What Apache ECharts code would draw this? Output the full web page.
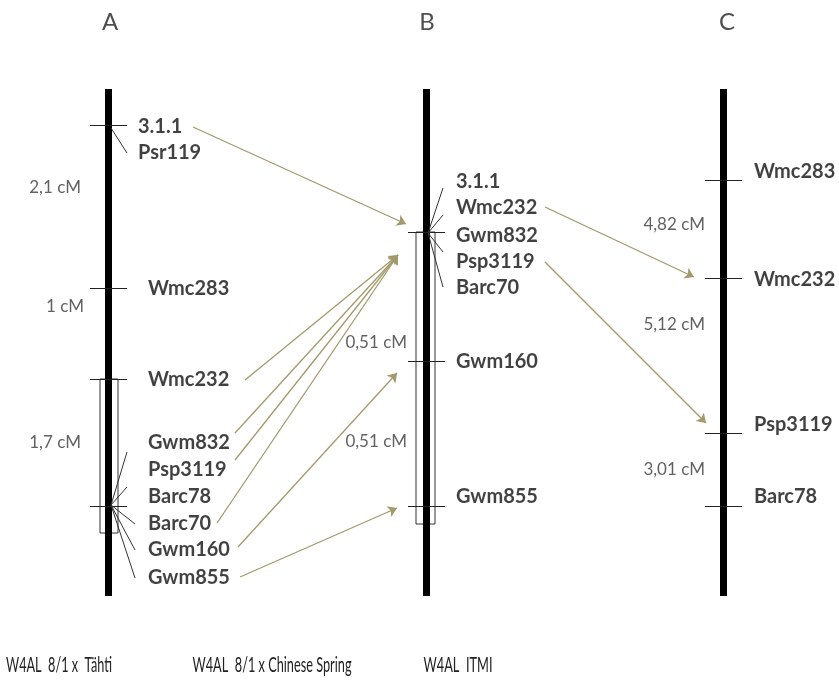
<!DOCTYPE html>
<html lang="en">
<head>
    <meta charset="UTF-8">
    <title>Genetic map 4AL</title>
    <script src="https://cdn.jsdelivr.net/npm/echarts@6/dist/echarts.min.js"></script>
    <style>
        *{
            margin:0;
            padding:0;
        }
        .main{
            width:839px;
            height:688px;
            background:#fff;
        }
    </style>
</head>
<body>
    <div class="main"></div>
    <script>
        // chromosome columns (same units as the page, y grows downwards)
        var titles=['A','B','C']
        var titleX=[110,427,727]
        var crosses=['W4AL  8/1 x  Tähti','W4AL  8/1 x Chinese Spring','W4AL  ITMI']
        var crossX=[59,272,458]
        var crossW=[106,159,69]
        var chromX=[108,426,723]
        var chromTop=89
        var chromBottom=596

        // marker ticks along each chromosome
        var ticksA=[125,288,379,506]
        var ticksB=[232,361,506]
        var ticksC=[180,278,433,506]

        // marker names and where their text sits
        var namesA=['3.1.1','Psr119','Wmc283','Wmc232','Gwm832','Psp3119','Barc78','Barc70','Gwm160','Gwm855']
        var labelYA=[127,153,289,380,443,470,497,524,550,578]
        var labelXA=[138,138,148,148,148,148,148,148,148,148]
        var namesB=['3.1.1','Wmc232','Gwm832','Psp3119','Barc70','Gwm160','Gwm855']
        var labelYB=[182,208,236,262,288,362,497]
        var labelXB=456
        var namesC=['Wmc283','Wmc232','Psp3119','Barc78']
        var labelYC=[172,280,425,497]
        var labelXC=754

        // distances between markers
        var distA=['2,1 cM','1 cM','1,7 cM']
        var distYA=[188,307,443]
        var distXA=[81,84,81]
        var distB=['0,51 cM','0,51 cM']
        var distYB=[343,442]
        var distXB=407
        var distC=['4,82 cM','5,12 cM','3,01 cM']
        var distYC=[225,325,470]
        var distXC=705

        // interval boxes [x0,x1,y0,y1]
        var boxes=[[100,118,379,533],[416,435,232,524]]

        // leader lines: origin on the chromosome and ends next to the names
        var leadA1=[[111,128],[[127,153]]]
        var leadA2=[[111,505],[[127,452],[127,487],[135,524],[135,550],[135,578]]]
        var leadB=[[428,233],[[443,188],[443,215],[443,252],[443,287]]]

        // arrows between the maps [from, to]
        var arrows=[
            [[193,127],[406,224]],
            [[245,380],[398,255]],
            [[235,433],[398,255]],
            [[235,460],[398,255]],
            [[217,523],[398,255]],
            [[238,547],[397,373]],
            [[240,577],[397,508]],
            [[545,207],[694,277]],
            [[545,262],[706,423]]
        ]

        var labelFont="Lato, 'Open Sans', sans-serif"

        function pts(xs,ys,names){
            var out=[]
            for(var i=0;i<ys.length;i++){
                out.push({value:[Array.isArray(xs)?xs[i]:xs,ys[i]],name:names[i]})
            }
            return out
        }

        var chromLines=[]
        var tickLines=[]
        var allTicks=[ticksA,ticksB,ticksC]
        for(var c=0;c<3;c++){
            chromLines.push({coords:[[chromX[c],chromTop],[chromX[c],chromBottom]]})
            for(var t=0;t<allTicks[c].length;t++){
                var y=allTicks[c][t]
                tickLines.push({coords:[[chromX[c]-18,y],[chromX[c]+19,y]]})
            }
        }

        var boxLines=boxes.map(function(b){
            return {coords:[[b[0],b[3]],[b[0],b[2]],[b[1],b[2]],[b[1],b[3]],[b[0],b[3]]]}
        })

        var leaderLines=[]
        ;[leadA1,leadA2,leadB].forEach(function(l){
            l[1].forEach(function(e){leaderLines.push({coords:[l[0],e]})})
        })

        var arrowLines=arrows.map(function(a){return {coords:a}})

        var markerLabel={
            show:true,
            position:'right',
            distance:0,
            formatter:'{b}',
            color:'#111',
            fontFamily:labelFont,
            fontWeight:'bold',
            fontSize:20
        }
        var distLabel={
            show:true,
            position:'left',
            distance:0,
            formatter:'{b}',
            color:'#3a3a3a',
            fontFamily:labelFont,
            fontSize:17
        }

        var myChart=echarts.init(document.querySelector('.main'))
        var option={
            animation:false,
            grid:{left:0,right:0,top:0,bottom:0},
            xAxis:{type:'value',min:0,max:839,show:false},
            yAxis:{type:'value',min:0,max:688,inverse:true,show:false},
            series:[
                {
                    type:'lines',
                    coordinateSystem:'cartesian2d',
                    polyline:true,
                    data:boxLines,
                    lineStyle:{color:'#333',width:1,opacity:1}
                },
                {
                    type:'lines',
                    coordinateSystem:'cartesian2d',
                    data:chromLines,
                    lineStyle:{color:'#000',width:7,opacity:1}
                },
                {
                    type:'lines',
                    coordinateSystem:'cartesian2d',
                    data:tickLines,
                    lineStyle:{color:'#222',width:1,opacity:1}
                },
                {
                    type:'lines',
                    coordinateSystem:'cartesian2d',
                    data:leaderLines,
                    lineStyle:{color:'#333',width:1,opacity:1}
                },
                {
                    type:'lines',
                    coordinateSystem:'cartesian2d',
                    data:arrowLines,
                    symbol:['none','arrow'],
                    symbolSize:9,
                    lineStyle:{color:'#a29a6c',width:1.3,opacity:1}
                },
                {
                    type:'scatter',
                    symbolSize:0,
                    data:pts(labelXA,labelYA,namesA)
                        .concat(pts(labelXB,labelYB,namesB))
                        .concat(pts(labelXC,labelYC,namesC)),
                    label:markerLabel
                },
                {
                    type:'scatter',
                    symbolSize:0,
                    data:pts(distXA,distYA,distA)
                        .concat(pts(distXB,distYB,distB))
                        .concat(pts(distXC,distYC,distC)),
                    label:distLabel
                },
                {
                    type:'scatter',
                    symbolSize:0,
                    data:pts(titleX,[22,22,22],titles),
                    label:{show:true,position:'inside',formatter:'{b}',color:'#222',fontFamily:labelFont,fontSize:24}
                }
            ]
        }
        myChart.setOption(option)

        // captions under the maps: condensed text, squeezed to the width seen in the picture
        var capFont="22px Lato, 'Open Sans', sans-serif"
        var graphics=[]
        for(var k=0;k<crosses.length;k++){
            var p=myChart.convertToPixel({gridIndex:0},[crossX[k],665])
            var w=echarts.format.getTextRect?echarts.format.getTextRect(crosses[k],capFont).width:crossW[k]/0.66
            graphics.push({
                type:'text',
                x:p[0],
                y:p[1],
                scaleX:crossW[k]/w,
                style:{text:crosses[k],font:capFont,fill:'#222',align:'center',verticalAlign:'middle'}
            })
        }
        myChart.setOption({graphic:graphics})
    </script>
</body>
</html>
